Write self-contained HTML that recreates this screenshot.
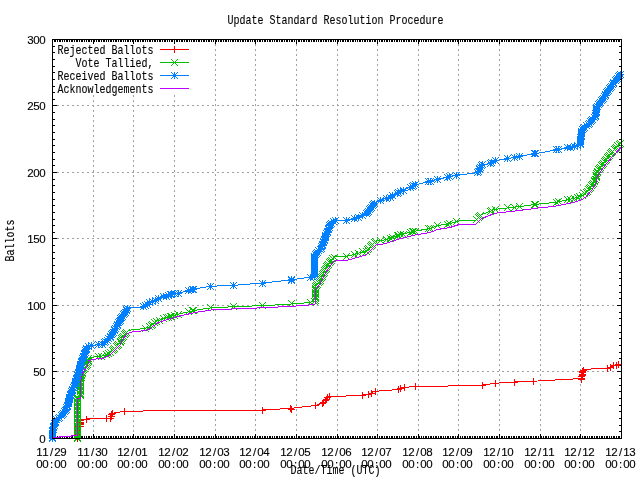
<!DOCTYPE html>
<html><head><meta charset="utf-8"><title>Update Standard Resolution Procedure</title>
<style>html,body{margin:0;padding:0;background:#fff;overflow:hidden}svg{display:block}text{font-family:"Liberation Mono","DejaVu Sans Mono",monospace;font-size:12px;fill:#000;stroke:#000;stroke-width:.12px}.n text{font-family:"Liberation Sans","DejaVu Sans",sans-serif;font-size:11.5px;text-anchor:middle}</style></head><body>
<svg width="640" height="480" viewBox="0 0 640 480">
<rect width="640" height="480" fill="#fff"/>
<path d="M93.5 95V438M133.5 95V438M174.5 95V438M215.5 39V438M255.5 39V438M296.5 39V438M337.5 39V438M377.5 39V438M418.5 39V438M458.5 39V438M499.5 39V438M540.5 39V438M580.5 39V438M52 371.5H621M52 305.5H621M52 238.5H621M52 172.5H621M52 105.5H621" fill="none" stroke="#a0a0a0" stroke-width="1" stroke-dasharray="2 3" shape-rendering="crispEdges"/>
<path d="M52.5 438v-4M52.5 40v4M54.5 438v-2M54.5 40v2M55.5 438v-2M55.5 40v2M57.5 438v-2M57.5 40v2M59.5 438v-2M59.5 40v2M60.5 438v-2M60.5 40v2M62.5 438v-2M62.5 40v2M64.5 438v-2M64.5 40v2M66.5 438v-2M66.5 40v2M67.5 438v-2M67.5 40v2M69.5 438v-2M69.5 40v2M71.5 438v-2M71.5 40v2M72.5 438v-2M72.5 40v2M74.5 438v-2M74.5 40v2M76.5 438v-2M76.5 40v2M77.5 438v-2M77.5 40v2M79.5 438v-2M79.5 40v2M81.5 438v-2M81.5 40v2M82.5 438v-2M82.5 40v2M84.5 438v-2M84.5 40v2M86.5 438v-2M86.5 40v2M88.5 438v-2M88.5 40v2M89.5 438v-2M89.5 40v2M91.5 438v-2M91.5 40v2M93.5 438v-4M93.5 40v4M94.5 438v-2M94.5 40v2M96.5 438v-2M96.5 40v2M98.5 438v-2M98.5 40v2M99.5 438v-2M99.5 40v2M101.5 438v-2M101.5 40v2M103.5 438v-2M103.5 40v2M104.5 438v-2M104.5 40v2M106.5 438v-2M106.5 40v2M108.5 438v-2M108.5 40v2M110.5 438v-2M110.5 40v2M111.5 438v-2M111.5 40v2M113.5 438v-2M113.5 40v2M115.5 438v-2M115.5 40v2M116.5 438v-2M116.5 40v2M118.5 438v-2M118.5 40v2M120.5 438v-2M120.5 40v2M121.5 438v-2M121.5 40v2M123.5 438v-2M123.5 40v2M125.5 438v-2M125.5 40v2M127.5 438v-2M127.5 40v2M128.5 438v-2M128.5 40v2M130.5 438v-2M130.5 40v2M132.5 438v-2M132.5 40v2M133.5 438v-4M133.5 40v4M135.5 438v-2M135.5 40v2M137.5 438v-2M137.5 40v2M138.5 438v-2M138.5 40v2M140.5 438v-2M140.5 40v2M142.5 438v-2M142.5 40v2M143.5 438v-2M143.5 40v2M145.5 438v-2M145.5 40v2M147.5 438v-2M147.5 40v2M149.5 438v-2M149.5 40v2M150.5 438v-2M150.5 40v2M152.5 438v-2M152.5 40v2M154.5 438v-2M154.5 40v2M155.5 438v-2M155.5 40v2M157.5 438v-2M157.5 40v2M159.5 438v-2M159.5 40v2M160.5 438v-2M160.5 40v2M162.5 438v-2M162.5 40v2M164.5 438v-2M164.5 40v2M165.5 438v-2M165.5 40v2M167.5 438v-2M167.5 40v2M169.5 438v-2M169.5 40v2M171.5 438v-2M171.5 40v2M172.5 438v-2M172.5 40v2M174.5 438v-4M174.5 40v4M176.5 438v-2M176.5 40v2M177.5 438v-2M177.5 40v2M179.5 438v-2M179.5 40v2M181.5 438v-2M181.5 40v2M182.5 438v-2M182.5 40v2M184.5 438v-2M184.5 40v2M186.5 438v-2M186.5 40v2M187.5 438v-2M187.5 40v2M189.5 438v-2M189.5 40v2M191.5 438v-2M191.5 40v2M193.5 438v-2M193.5 40v2M194.5 438v-2M194.5 40v2M196.5 438v-2M196.5 40v2M198.5 438v-2M198.5 40v2M199.5 438v-2M199.5 40v2M201.5 438v-2M201.5 40v2M203.5 438v-2M203.5 40v2M204.5 438v-2M204.5 40v2M206.5 438v-2M206.5 40v2M208.5 438v-2M208.5 40v2M209.5 438v-2M209.5 40v2M211.5 438v-2M211.5 40v2M213.5 438v-2M213.5 40v2M215.5 438v-4M215.5 40v4M216.5 438v-2M216.5 40v2M218.5 438v-2M218.5 40v2M220.5 438v-2M220.5 40v2M221.5 438v-2M221.5 40v2M223.5 438v-2M223.5 40v2M225.5 438v-2M225.5 40v2M226.5 438v-2M226.5 40v2M228.5 438v-2M228.5 40v2M230.5 438v-2M230.5 40v2M232.5 438v-2M232.5 40v2M233.5 438v-2M233.5 40v2M235.5 438v-2M235.5 40v2M237.5 438v-2M237.5 40v2M238.5 438v-2M238.5 40v2M240.5 438v-2M240.5 40v2M242.5 438v-2M242.5 40v2M243.5 438v-2M243.5 40v2M245.5 438v-2M245.5 40v2M247.5 438v-2M247.5 40v2M248.5 438v-2M248.5 40v2M250.5 438v-2M250.5 40v2M252.5 438v-2M252.5 40v2M254.5 438v-2M254.5 40v2M255.5 438v-4M255.5 40v4M257.5 438v-2M257.5 40v2M259.5 438v-2M259.5 40v2M260.5 438v-2M260.5 40v2M262.5 438v-2M262.5 40v2M264.5 438v-2M264.5 40v2M265.5 438v-2M265.5 40v2M267.5 438v-2M267.5 40v2M269.5 438v-2M269.5 40v2M270.5 438v-2M270.5 40v2M272.5 438v-2M272.5 40v2M274.5 438v-2M274.5 40v2M276.5 438v-2M276.5 40v2M277.5 438v-2M277.5 40v2M279.5 438v-2M279.5 40v2M281.5 438v-2M281.5 40v2M282.5 438v-2M282.5 40v2M284.5 438v-2M284.5 40v2M286.5 438v-2M286.5 40v2M287.5 438v-2M287.5 40v2M289.5 438v-2M289.5 40v2M291.5 438v-2M291.5 40v2M292.5 438v-2M292.5 40v2M294.5 438v-2M294.5 40v2M296.5 438v-4M296.5 40v4M298.5 438v-2M298.5 40v2M299.5 438v-2M299.5 40v2M301.5 438v-2M301.5 40v2M303.5 438v-2M303.5 40v2M304.5 438v-2M304.5 40v2M306.5 438v-2M306.5 40v2M308.5 438v-2M308.5 40v2M309.5 438v-2M309.5 40v2M311.5 438v-2M311.5 40v2M313.5 438v-2M313.5 40v2M314.5 438v-2M314.5 40v2M316.5 438v-2M316.5 40v2M318.5 438v-2M318.5 40v2M320.5 438v-2M320.5 40v2M321.5 438v-2M321.5 40v2M323.5 438v-2M323.5 40v2M325.5 438v-2M325.5 40v2M326.5 438v-2M326.5 40v2M328.5 438v-2M328.5 40v2M330.5 438v-2M330.5 40v2M331.5 438v-2M331.5 40v2M333.5 438v-2M333.5 40v2M335.5 438v-2M335.5 40v2M337.5 438v-4M337.5 40v4M338.5 438v-2M338.5 40v2M340.5 438v-2M340.5 40v2M342.5 438v-2M342.5 40v2M343.5 438v-2M343.5 40v2M345.5 438v-2M345.5 40v2M347.5 438v-2M347.5 40v2M348.5 438v-2M348.5 40v2M350.5 438v-2M350.5 40v2M352.5 438v-2M352.5 40v2M353.5 438v-2M353.5 40v2M355.5 438v-2M355.5 40v2M357.5 438v-2M357.5 40v2M359.5 438v-2M359.5 40v2M360.5 438v-2M360.5 40v2M362.5 438v-2M362.5 40v2M364.5 438v-2M364.5 40v2M365.5 438v-2M365.5 40v2M367.5 438v-2M367.5 40v2M369.5 438v-2M369.5 40v2M370.5 438v-2M370.5 40v2M372.5 438v-2M372.5 40v2M374.5 438v-2M374.5 40v2M375.5 438v-2M375.5 40v2M377.5 438v-4M377.5 40v4M379.5 438v-2M379.5 40v2M381.5 438v-2M381.5 40v2M382.5 438v-2M382.5 40v2M384.5 438v-2M384.5 40v2M386.5 438v-2M386.5 40v2M387.5 438v-2M387.5 40v2M389.5 438v-2M389.5 40v2M391.5 438v-2M391.5 40v2M392.5 438v-2M392.5 40v2M394.5 438v-2M394.5 40v2M396.5 438v-2M396.5 40v2M397.5 438v-2M397.5 40v2M399.5 438v-2M399.5 40v2M401.5 438v-2M401.5 40v2M403.5 438v-2M403.5 40v2M404.5 438v-2M404.5 40v2M406.5 438v-2M406.5 40v2M408.5 438v-2M408.5 40v2M409.5 438v-2M409.5 40v2M411.5 438v-2M411.5 40v2M413.5 438v-2M413.5 40v2M414.5 438v-2M414.5 40v2M416.5 438v-2M416.5 40v2M418.5 438v-4M418.5 40v4M419.5 438v-2M419.5 40v2M421.5 438v-2M421.5 40v2M423.5 438v-2M423.5 40v2M425.5 438v-2M425.5 40v2M426.5 438v-2M426.5 40v2M428.5 438v-2M428.5 40v2M430.5 438v-2M430.5 40v2M431.5 438v-2M431.5 40v2M433.5 438v-2M433.5 40v2M435.5 438v-2M435.5 40v2M436.5 438v-2M436.5 40v2M438.5 438v-2M438.5 40v2M440.5 438v-2M440.5 40v2M441.5 438v-2M441.5 40v2M443.5 438v-2M443.5 40v2M445.5 438v-2M445.5 40v2M447.5 438v-2M447.5 40v2M448.5 438v-2M448.5 40v2M450.5 438v-2M450.5 40v2M452.5 438v-2M452.5 40v2M453.5 438v-2M453.5 40v2M455.5 438v-2M455.5 40v2M457.5 438v-2M457.5 40v2M458.5 438v-4M458.5 40v4M460.5 438v-2M460.5 40v2M462.5 438v-2M462.5 40v2M464.5 438v-2M464.5 40v2M465.5 438v-2M465.5 40v2M467.5 438v-2M467.5 40v2M469.5 438v-2M469.5 40v2M470.5 438v-2M470.5 40v2M472.5 438v-2M472.5 40v2M474.5 438v-2M474.5 40v2M475.5 438v-2M475.5 40v2M477.5 438v-2M477.5 40v2M479.5 438v-2M479.5 40v2M480.5 438v-2M480.5 40v2M482.5 438v-2M482.5 40v2M484.5 438v-2M484.5 40v2M486.5 438v-2M486.5 40v2M487.5 438v-2M487.5 40v2M489.5 438v-2M489.5 40v2M491.5 438v-2M491.5 40v2M492.5 438v-2M492.5 40v2M494.5 438v-2M494.5 40v2M496.5 438v-2M496.5 40v2M497.5 438v-2M497.5 40v2M499.5 438v-4M499.5 40v4M501.5 438v-2M501.5 40v2M502.5 438v-2M502.5 40v2M504.5 438v-2M504.5 40v2M506.5 438v-2M506.5 40v2M508.5 438v-2M508.5 40v2M509.5 438v-2M509.5 40v2M511.5 438v-2M511.5 40v2M513.5 438v-2M513.5 40v2M514.5 438v-2M514.5 40v2M516.5 438v-2M516.5 40v2M518.5 438v-2M518.5 40v2M519.5 438v-2M519.5 40v2M521.5 438v-2M521.5 40v2M523.5 438v-2M523.5 40v2M524.5 438v-2M524.5 40v2M526.5 438v-2M526.5 40v2M528.5 438v-2M528.5 40v2M530.5 438v-2M530.5 40v2M531.5 438v-2M531.5 40v2M533.5 438v-2M533.5 40v2M535.5 438v-2M535.5 40v2M536.5 438v-2M536.5 40v2M538.5 438v-2M538.5 40v2M540.5 438v-4M540.5 40v4M541.5 438v-2M541.5 40v2M543.5 438v-2M543.5 40v2M545.5 438v-2M545.5 40v2M546.5 438v-2M546.5 40v2M548.5 438v-2M548.5 40v2M550.5 438v-2M550.5 40v2M552.5 438v-2M552.5 40v2M553.5 438v-2M553.5 40v2M555.5 438v-2M555.5 40v2M557.5 438v-2M557.5 40v2M558.5 438v-2M558.5 40v2M560.5 438v-2M560.5 40v2M562.5 438v-2M562.5 40v2M563.5 438v-2M563.5 40v2M565.5 438v-2M565.5 40v2M567.5 438v-2M567.5 40v2M569.5 438v-2M569.5 40v2M570.5 438v-2M570.5 40v2M572.5 438v-2M572.5 40v2M574.5 438v-2M574.5 40v2M575.5 438v-2M575.5 40v2M577.5 438v-2M577.5 40v2M579.5 438v-2M579.5 40v2M580.5 438v-4M580.5 40v4M582.5 438v-2M582.5 40v2M584.5 438v-2M584.5 40v2M585.5 438v-2M585.5 40v2M587.5 438v-2M587.5 40v2M589.5 438v-2M589.5 40v2M591.5 438v-2M591.5 40v2M592.5 438v-2M592.5 40v2M594.5 438v-2M594.5 40v2M596.5 438v-2M596.5 40v2M597.5 438v-2M597.5 40v2M599.5 438v-2M599.5 40v2M601.5 438v-2M601.5 40v2M602.5 438v-2M602.5 40v2M604.5 438v-2M604.5 40v2M606.5 438v-2M606.5 40v2M607.5 438v-2M607.5 40v2M609.5 438v-2M609.5 40v2M611.5 438v-2M611.5 40v2M613.5 438v-2M613.5 40v2M614.5 438v-2M614.5 40v2M616.5 438v-2M616.5 40v2M618.5 438v-2M618.5 40v2M619.5 438v-2M619.5 40v2M621.5 438v-4M621.5 40v4M53 438.5h4M621 438.5h-4M53 431.5h2M621 431.5h-2M53 425.5h2M621 425.5h-2M53 418.5h2M621 418.5h-2M53 411.5h2M621 411.5h-2M53 405.5h2M621 405.5h-2M53 398.5h2M621 398.5h-2M53 391.5h2M621 391.5h-2M53 385.5h2M621 385.5h-2M53 378.5h2M621 378.5h-2M53 371.5h4M621 371.5h-4M53 365.5h2M621 365.5h-2M53 358.5h2M621 358.5h-2M53 352.5h2M621 352.5h-2M53 345.5h2M621 345.5h-2M53 338.5h2M621 338.5h-2M53 332.5h2M621 332.5h-2M53 325.5h2M621 325.5h-2M53 318.5h2M621 318.5h-2M53 312.5h2M621 312.5h-2M53 305.5h4M621 305.5h-4M53 298.5h2M621 298.5h-2M53 292.5h2M621 292.5h-2M53 285.5h2M621 285.5h-2M53 278.5h2M621 278.5h-2M53 272.5h2M621 272.5h-2M53 265.5h2M621 265.5h-2M53 258.5h2M621 258.5h-2M53 252.5h2M621 252.5h-2M53 245.5h2M621 245.5h-2M53 238.5h4M621 238.5h-4M53 232.5h2M621 232.5h-2M53 225.5h2M621 225.5h-2M53 219.5h2M621 219.5h-2M53 212.5h2M621 212.5h-2M53 205.5h2M621 205.5h-2M53 199.5h2M621 199.5h-2M53 192.5h2M621 192.5h-2M53 185.5h2M621 185.5h-2M53 179.5h2M621 179.5h-2M53 172.5h4M621 172.5h-4M53 165.5h2M621 165.5h-2M53 159.5h2M621 159.5h-2M53 152.5h2M621 152.5h-2M53 145.5h2M621 145.5h-2M53 139.5h2M621 139.5h-2M53 132.5h2M621 132.5h-2M53 125.5h2M621 125.5h-2M53 119.5h2M621 119.5h-2M53 112.5h2M621 112.5h-2M53 105.5h4M621 105.5h-4M53 99.5h2M621 99.5h-2M53 92.5h2M621 92.5h-2M53 86.5h2M621 86.5h-2M53 79.5h2M621 79.5h-2M53 72.5h2M621 72.5h-2M53 66.5h2M621 66.5h-2M53 59.5h2M621 59.5h-2M53 52.5h2M621 52.5h-2M53 46.5h2M621 46.5h-2M53 39.5h4M621 39.5h-4" fill="none" stroke="#000" stroke-width="1" shape-rendering="crispEdges"/>
<text transform="translate(335.5 24) scale(0.8333 1)" text-anchor="middle">Update Standard Resolution Procedure</text>
<text transform="translate(335.5 474) scale(0.8333 1)" text-anchor="middle">Date/Time (UTC)</text>
<text transform="translate(14.2 240.5) rotate(-90) scale(0.8333 1)" text-anchor="middle">Ballots</text>
<g class="n">
<text x="42.5" y="443">0</text>
<text x="36.5 42.5" y="376">50</text>
<text x="30.5 36.5 42.5" y="310">100</text>
<text x="30.5 36.5 42.5" y="243">150</text>
<text x="30.5 36.5 42.5" y="177">200</text>
<text x="30.5 36.5 42.5" y="110">250</text>
<text x="30.5 36.5 42.5" y="44">300</text>
<text x="39.5 45.5 51.5 57.5 63.5" y="455.5">11/29</text>
<text x="39.5 45.5 51.5 57.5 63.5" y="468.3">00:00</text>
<text x="80.5 86.5 92.5 98.5 104.5" y="455.5">11/30</text>
<text x="80.5 86.5 92.5 98.5 104.5" y="468.3">00:00</text>
<text x="120.5 126.5 132.5 138.5 144.5" y="455.5">12/01</text>
<text x="120.5 126.5 132.5 138.5 144.5" y="468.3">00:00</text>
<text x="161.5 167.5 173.5 179.5 185.5" y="455.5">12/02</text>
<text x="161.5 167.5 173.5 179.5 185.5" y="468.3">00:00</text>
<text x="202.5 208.5 214.5 220.5 226.5" y="455.5">12/03</text>
<text x="202.5 208.5 214.5 220.5 226.5" y="468.3">00:00</text>
<text x="242.5 248.5 254.5 260.5 266.5" y="455.5">12/04</text>
<text x="242.5 248.5 254.5 260.5 266.5" y="468.3">00:00</text>
<text x="283.5 289.5 295.5 301.5 307.5" y="455.5">12/05</text>
<text x="283.5 289.5 295.5 301.5 307.5" y="468.3">00:00</text>
<text x="324.5 330.5 336.5 342.5 348.5" y="455.5">12/06</text>
<text x="324.5 330.5 336.5 342.5 348.5" y="468.3">00:00</text>
<text x="364.5 370.5 376.5 382.5 388.5" y="455.5">12/07</text>
<text x="364.5 370.5 376.5 382.5 388.5" y="468.3">00:00</text>
<text x="405.5 411.5 417.5 423.5 429.5" y="455.5">12/08</text>
<text x="405.5 411.5 417.5 423.5 429.5" y="468.3">00:00</text>
<text x="445.5 451.5 457.5 463.5 469.5" y="455.5">12/09</text>
<text x="445.5 451.5 457.5 463.5 469.5" y="468.3">00:00</text>
<text x="486.5 492.5 498.5 504.5 510.5" y="455.5">12/10</text>
<text x="486.5 492.5 498.5 504.5 510.5" y="468.3">00:00</text>
<text x="527.5 533.5 539.5 545.5 551.5" y="455.5">12/11</text>
<text x="527.5 533.5 539.5 545.5 551.5" y="468.3">00:00</text>
<text x="567.5 573.5 579.5 585.5 591.5" y="455.5">12/12</text>
<text x="567.5 573.5 579.5 585.5 591.5" y="468.3">00:00</text>
<text x="608.5 614.5 620.5 626.5 632.5" y="455.5">12/13</text>
<text x="608.5 614.5 620.5 626.5 632.5" y="468.3">00:00</text>
</g>
<text transform="translate(153.5 54) scale(0.8333 1)" text-anchor="end">Rejected Ballots</text>
<path d="M160 49.5H189" stroke="#ff0000" fill="none" shape-rendering="crispEdges"/>
<text transform="translate(153.5 67) scale(0.8333 1)" text-anchor="end">Vote Tallied,</text>
<path d="M160 62.5H189" stroke="#00c000" fill="none" shape-rendering="crispEdges"/>
<text transform="translate(153.5 80) scale(0.8333 1)" text-anchor="end">Received Ballots</text>
<path d="M160 75.5H189" stroke="#0080ff" fill="none" shape-rendering="crispEdges"/>
<text transform="translate(153.5 93) scale(0.8333 1)" text-anchor="end">Acknowledgements</text>
<path d="M160 88.5H189" stroke="#c000ff" fill="none" shape-rendering="crispEdges"/>
<path d="M171 49.5h7M174.5 46v7" stroke="#ff0000" fill="none" shape-rendering="crispEdges"/>
<path d="M171 59l7 7M171 66l7 -7" stroke="#00c000" fill="none" shape-rendering="crispEdges"/>
<path d="M171 75.5h7M174.5 72v7M171 72l7 7M171 79l7 -7" stroke="#0080ff" fill="none" shape-rendering="crispEdges"/>
<clipPath id="c"><rect x="48" y="39" width="577" height="404"/></clipPath><g clip-path="url(#c)" fill="none" stroke-width="1" shape-rendering="crispEdges">
<path d="M77.5 438.5 L77.5 427 L80.5 426 L80.5 419 L86.5 419 L106.5 418.5 L110.3 418 L111.25 414.4 L112 413.4 L124.4 411.2 L192.5 410.5 L262.5 410 L276 409.25 L291 408.4 L302.5 407 L315.75 405.5 L322.5 403 L325 400 L327.5 397.5 L329.25 396.75 L342.5 396.25 L362.5 395 L368.75 394.25 L371.25 393 L375 391.25 L387.5 390.5 L398.75 389.25 L400.75 388.75 L404.25 387.5 L415.5 386.25 L447.5 386.25 L450 385.5 L482.5 385 L495 383.25 L514.5 382 L533.25 381.25 L577.5 378.75 L581.25 379.5 L583 369.5 L607.5 368 L610.5 367 L613.75 365.75 L616.25 365 L618.75 364.5" stroke="#ff0000"/>
<path d="M74 438.5h7M77.5 435v7M74 437.5h7M77.5 434v7M74 435.5h7M77.5 432v7M74 434.5h7M77.5 431v7M74 433.5h7M77.5 430v7M74 431.5h7M77.5 428v7M74 430.5h7M77.5 427v7M74 429.5h7M77.5 426v7M74 427.5h7M77.5 424v7M74 426.5h7M77.5 423v7M77 426.5h7M80.5 423v7M77 424.5h7M80.5 421v7M77 423.5h7M80.5 420v7M77 422.5h7M80.5 419v7M77 420.5h7M80.5 417v7M77 419.5h7M80.5 416v7M83 419.5h7M86.5 416v7M103 418.5h7M106.5 415v7M107 418.5h7M110.5 415v7M108 416.5h7M111.5 413v7M108 414.5h7M111.5 411v7M109 413.5h7M112.5 410v7M121 411.5h7M124.5 408v7M259 410.5h7M262.5 407v7M287 408.5h7M290.5 405v7M288 409.5h7M291.5 406v7M312 405.5h7M315.5 402v7M319 403.5h7M322.5 400v7M320 402.5h7M323.5 399v7M322 400.5h7M325.5 397v7M323 399.5h7M326.5 396v7M324 397.5h7M327.5 394v7M326 396.5h7M329.5 393v7M359 395.5h7M362.5 392v7M365 394.5h7M368.5 391v7M368 393.5h7M371.5 390v7M372 391.5h7M375.5 388v7M395 389.5h7M398.5 386v7M397 388.5h7M400.5 385v7M401 387.5h7M404.5 384v7M412 386.5h7M415.5 383v7M479 385.5h7M482.5 382v7M492 383.5h7M495.5 380v7M511 382.5h7M514.5 379v7M530 381.5h7M533.5 378v7M578 379.5h7M581.5 376v7M578 378.5h7M581.5 375v7M578 376.5h7M581.5 373v7M579 375.5h7M582.5 372v7M579 374.5h7M582.5 371v7M579 372.5h7M582.5 369v7M579 371.5h7M582.5 368v7M580 370.5h7M583.5 367v7M604 368.5h7M607.5 365v7M607 367.5h7M610.5 364v7M610 365.5h7M613.5 362v7M613 365.5h7M616.5 362v7M615 364.5h7M618.5 361v7" stroke="#ff0000"/>
<path d="M77.5 438.5 L77.5 396.5 L80.4 396.5 L80.2 380.3 L83 370.3 L87.5 363.8 L88.75 358.4 L92.5 357.2 L103.75 355.8 L110 352.8 L115 347.8 L120 342.8 L122.5 337.3 L127.5 331.3 L132 329.8 L140 329 L146 328 L149 327.3 L151.5 325.1 L157.5 320.8 L167.5 317.2 L180 313.8 L195 310.3 L211 307.8 L232.5 306.8 L250 306.1 L270 305.3 L302.5 303.26 L315 301.45 L316 285.89 L320 280.67 L326 268.33 L333 258.1 L336 256.7 L348 256.1 L366 251.1 L370 247.35 L376 241.1 L385 239.85 L400 234.85 L415 231.1 L430 228.6 L437.5 225.6 L450 223.6 L457.5 221.1 L476 220.1 L481 214.85 L495 209.35 L520 206.6 L536 204.35 L555 202.35 L566 200.1 L574 198.5 L581 196.07 L586 192.94 L592 185.78 L596 178.67 L597 172.64 L603 163.48 L612 152.24 L621.5 142" stroke="#00c000"/>
<path d="M74 435l7 7M74 442l7 -7M74 434l7 7M74 441l7 -7M74 432l7 7M74 439l7 -7M74 431l7 7M74 438l7 -7M74 430l7 7M74 437l7 -7M74 428l7 7M74 435l7 -7M74 427l7 7M74 434l7 -7M74 426l7 7M74 433l7 -7M74 424l7 7M74 431l7 -7M74 423l7 7M74 430l7 -7M74 422l7 7M74 429l7 -7M74 420l7 7M74 427l7 -7M74 419l7 7M74 426l7 -7M74 418l7 7M74 425l7 -7M74 416l7 7M74 423l7 -7M74 415l7 7M74 422l7 -7M74 414l7 7M74 421l7 -7M74 412l7 7M74 419l7 -7M74 411l7 7M74 418l7 -7M74 410l7 7M74 417l7 -7M74 408l7 7M74 415l7 -7M74 407l7 7M74 414l7 -7M74 406l7 7M74 413l7 -7M74 404l7 7M74 411l7 -7M74 403l7 7M74 410l7 -7M74 402l7 7M74 409l7 -7M74 400l7 7M74 407l7 -7M74 399l7 7M74 406l7 -7M74 398l7 7M74 405l7 -7M74 396l7 7M74 403l7 -7M74 395l7 7M74 402l7 -7M74 394l7 7M74 401l7 -7M77 392l7 7M77 399l7 -7M77 391l7 7M77 398l7 -7M77 390l7 7M77 397l7 -7M77 388l7 7M77 395l7 -7M77 387l7 7M77 394l7 -7M77 386l7 7M77 393l7 -7M77 384l7 7M77 391l7 -7M77 383l7 7M77 390l7 -7M77 382l7 7M77 389l7 -7M77 380l7 7M77 387l7 -7M77 379l7 7M77 386l7 -7M77 378l7 7M77 385l7 -7M77 376l7 7M77 383l7 -7M77 375l7 7M77 382l7 -7M78 374l7 7M78 381l7 -7M78 372l7 7M78 379l7 -7M78 371l7 7M78 378l7 -7M79 370l7 7M79 377l7 -7M79 369l7 7M79 376l7 -7M79 367l7 7M79 374l7 -7M80 366l7 7M80 373l7 -7M81 365l7 7M81 372l7 -7M82 363l7 7M82 370l7 -7M83 362l7 7M83 369l7 -7M84 361l7 7M84 368l7 -7M84 359l7 7M84 366l7 -7M85 358l7 7M85 365l7 -7M85 357l7 7M85 364l7 -7M85 355l7 7M85 362l7 -7M98 353l7 7M98 360l7 -7M103 351l7 7M103 358l7 -7M105 350l7 7M105 357l7 -7M107 349l7 7M107 356l7 -7M109 347l7 7M109 354l7 -7M110 346l7 7M110 353l7 -7M111 345l7 7M111 352l7 -7M113 343l7 7M113 350l7 -7M114 342l7 7M114 349l7 -7M115 341l7 7M115 348l7 -7M117 339l7 7M117 346l7 -7M117 338l7 7M117 345l7 -7M118 337l7 7M118 344l7 -7M118 335l7 7M118 342l7 -7M119 334l7 7M119 341l7 -7M120 333l7 7M120 340l7 -7M121 331l7 7M121 338l7 -7M122 330l7 7M122 337l7 -7M123 329l7 7M123 336l7 -7M142 325l7 7M142 332l7 -7M146 323l7 7M146 330l7 -7M148 322l7 7M148 329l7 -7M149 321l7 7M149 328l7 -7M151 319l7 7M151 326l7 -7M153 318l7 7M153 325l7 -7M156 317l7 7M156 324l7 -7M311 298l7 7M311 305l7 -7M312 297l7 7M312 304l7 -7M312 295l7 7M312 302l7 -7M312 294l7 7M312 301l7 -7M312 293l7 7M312 300l7 -7M312 291l7 7M312 298l7 -7M312 290l7 7M312 297l7 -7M312 289l7 7M312 296l7 -7M312 287l7 7M312 294l7 -7M312 286l7 7M312 293l7 -7M312 285l7 7M312 292l7 -7M312 283l7 7M312 290l7 -7M313 282l7 7M313 289l7 -7M314 281l7 7M314 288l7 -7M315 279l7 7M315 286l7 -7M316 278l7 7M316 285l7 -7M317 277l7 7M317 284l7 -7M317 275l7 7M317 282l7 -7M318 274l7 7M318 281l7 -7M319 273l7 7M319 280l7 -7M319 271l7 7M319 278l7 -7M320 270l7 7M320 277l7 -7M321 269l7 7M321 276l7 -7M321 267l7 7M321 274l7 -7M322 266l7 7M322 273l7 -7M323 265l7 7M323 272l7 -7M323 263l7 7M323 270l7 -7M324 262l7 7M324 269l7 -7M325 261l7 7M325 268l7 -7M326 259l7 7M326 266l7 -7M327 258l7 7M327 265l7 -7M328 257l7 7M328 264l7 -7M329 255l7 7M329 262l7 -7M331 254l7 7M331 261l7 -7M364 246l7 7M364 253l7 -7M365 245l7 7M365 252l7 -7M367 243l7 7M367 250l7 -7M368 242l7 7M368 249l7 -7M369 241l7 7M369 248l7 -7M371 239l7 7M371 246l7 -7M372 238l7 7M372 245l7 -7M473 216l7 7M473 223l7 -7M475 214l7 7M475 221l7 -7M476 213l7 7M476 220l7 -7M477 212l7 7M477 219l7 -7M576 193l7 7M576 200l7 -7M579 192l7 7M579 199l7 -7M581 190l7 7M581 197l7 -7M583 189l7 7M583 196l7 -7M584 188l7 7M584 195l7 -7M585 186l7 7M585 193l7 -7M586 185l7 7M586 192l7 -7M587 184l7 7M587 191l7 -7M588 182l7 7M588 189l7 -7M589 181l7 7M589 188l7 -7M590 180l7 7M590 187l7 -7M591 178l7 7M591 185l7 -7M591 177l7 7M591 184l7 -7M592 176l7 7M592 183l7 -7M593 174l7 7M593 181l7 -7M593 173l7 7M593 180l7 -7M593 172l7 7M593 179l7 -7M593 170l7 7M593 177l7 -7M594 169l7 7M594 176l7 -7M594 168l7 7M594 175l7 -7M595 166l7 7M595 173l7 -7M596 165l7 7M596 172l7 -7M597 164l7 7M597 171l7 -7M598 162l7 7M598 169l7 -7M599 161l7 7M599 168l7 -7M600 160l7 7M600 167l7 -7M601 158l7 7M601 165l7 -7M602 157l7 7M602 164l7 -7M603 156l7 7M603 163l7 -7M604 154l7 7M604 161l7 -7M605 153l7 7M605 160l7 -7M606 152l7 7M606 159l7 -7M607 150l7 7M607 157l7 -7M608 149l7 7M608 156l7 -7M609 148l7 7M609 155l7 -7M611 146l7 7M611 153l7 -7M612 145l7 7M612 152l7 -7M613 144l7 7M613 151l7 -7M614 142l7 7M614 149l7 -7M616 141l7 7M616 148l7 -7M617 140l7 7M617 147l7 -7M95 353l7 7M95 360l7 -7M160 315l7 7M160 322l7 -7M163 314l7 7M163 321l7 -7M165 314l7 7M165 321l7 -7M167 313l7 7M167 320l7 -7M168 313l7 7M168 320l7 -7M171 312l7 7M171 319l7 -7M175 311l7 7M175 318l7 -7M185 308l7 7M185 315l7 -7M185 308l7 7M185 315l7 -7M189 307l7 7M189 314l7 -7M190 307l7 7M190 314l7 -7M207 304l7 7M207 311l7 -7M230 303l7 7M230 310l7 -7M259 302l7 7M259 309l7 -7M288 300l7 7M288 307l7 -7M288 300l7 7M288 307l7 -7M307 299l7 7M307 306l7 -7M343 253l7 7M343 260l7 -7M351 251l7 7M351 258l7 -7M355 250l7 7M355 257l7 -7M359 248l7 7M359 255l7 -7M363 248l7 7M363 255l7 -7M377 237l7 7M377 244l7 -7M383 236l7 7M383 243l7 -7M387 235l7 7M387 242l7 -7M389 234l7 7M389 241l7 -7M394 232l7 7M394 239l7 -7M395 232l7 7M395 239l7 -7M397 231l7 7M397 238l7 -7M400 231l7 7M400 238l7 -7M407 229l7 7M407 236l7 -7M409 228l7 7M409 235l7 -7M410 228l7 7M410 235l7 -7M412 228l7 7M412 235l7 -7M425 225l7 7M425 232l7 -7M427 225l7 7M427 232l7 -7M434 222l7 7M434 229l7 -7M444 221l7 7M444 228l7 -7M446 220l7 7M446 227l7 -7M453 218l7 7M453 225l7 -7M487 208l7 7M487 215l7 -7M488 207l7 7M488 214l7 -7M492 206l7 7M492 213l7 -7M504 204l7 7M504 211l7 -7M511 204l7 7M511 211l7 -7M516 203l7 7M516 210l7 -7M531 201l7 7M531 208l7 -7M532 201l7 7M532 208l7 -7M553 199l7 7M553 206l7 -7M555 198l7 7M555 205l7 -7M564 196l7 7M564 203l7 -7M567 196l7 7M567 203l7 -7M571 195l7 7M571 202l7 -7M574 194l7 7M574 201l7 -7" stroke="#00c000"/>
<path d="M52.5 438.5 L53 430 L54 426 L56.5 420 L62 415.5 L66 409.5 L68.7 402.5 L70.2 396 L73 389 L75 384.5 L79 371 L82.5 358.75 L87 347.5 L91.25 345.3 L98.6 344.8 L101.4 344.5 L105 342.3 L110 337.7 L116.3 327 L122 317 L128.3 307.5 L143 307.5 L148.5 303.6 L156.5 299.5 L165 296.3 L171 294.7 L178 293.2 L188 290.7 L193 289.3 L210.6 286.25 L233.5 285.4 L262.5 283 L291 280 L310 277 L314 277 L315 255 L320.8 249 L326 235 L331 223.3 L335.5 220.3 L345.8 220.3 L355 218.6 L365 214.7 L370 209.2 L374 203.4 L380 200.3 L390 197 L400 191.7 L415 185 L430 181.25 L437.5 179.5 L447.5 177 L456 175.25 L474 173.3 L477.5 172.5 L481.25 166.25 L483 164.5 L490 163.75 L495.6 160.6 L507.5 158.75 L514.4 157.25 L519.4 156.25 L535 153.75 L556 150 L570 147.3 L577 145.5 L580.5 144.5 L581.5 131 L585 127 L588 125 L594 118 L595.8 116 L596.4 108 L602 99.8 L608 91 L614 82 L621.5 73.2" stroke="#0080ff"/>
<path d="M49 438.5h7M52.5 435v7M49 437.5h7M52.5 434v7M49 435.5h7M52.5 432v7M49 434.5h7M52.5 431v7M49 433.5h7M52.5 430v7M49 431.5h7M52.5 428v7M49 430.5h7M52.5 427v7M50 429.5h7M53.5 426v7M50 427.5h7M53.5 424v7M50 426.5h7M53.5 423v7M51 425.5h7M54.5 422v7M51 423.5h7M54.5 420v7M52 422.5h7M55.5 419v7M52 421.5h7M55.5 418v7M53 419.5h7M56.5 416v7M55 418.5h7M58.5 415v7M56 417.5h7M59.5 414v7M58 415.5h7M61.5 412v7M59 414.5h7M62.5 411v7M60 413.5h7M63.5 410v7M61 411.5h7M64.5 408v7M62 410.5h7M65.5 407v7M63 409.5h7M66.5 406v7M63 407.5h7M66.5 404v7M64 406.5h7M67.5 403v7M64 405.5h7M67.5 402v7M65 403.5h7M68.5 400v7M65 402.5h7M68.5 399v7M65 401.5h7M68.5 398v7M66 399.5h7M69.5 396v7M66 398.5h7M69.5 395v7M66 397.5h7M69.5 394v7M67 395.5h7M70.5 392v7M67 394.5h7M70.5 391v7M68 393.5h7M71.5 390v7M68 391.5h7M71.5 388v7M69 390.5h7M72.5 387v7M69 389.5h7M72.5 386v7M70 387.5h7M73.5 384v7M71 386.5h7M74.5 383v7M71 385.5h7M74.5 382v7M72 383.5h7M75.5 380v7M72 382.5h7M75.5 379v7M72 381.5h7M75.5 378v7M73 379.5h7M76.5 376v7M73 378.5h7M76.5 375v7M74 377.5h7M77.5 374v7M74 375.5h7M77.5 372v7M74 374.5h7M77.5 371v7M75 373.5h7M78.5 370v7M75 372.5h7M78.5 369v7M76 370.5h7M79.5 367v7M76 369.5h7M79.5 366v7M76 368.5h7M79.5 365v7M77 366.5h7M80.5 363v7M77 365.5h7M80.5 362v7M77 364.5h7M80.5 361v7M78 362.5h7M81.5 359v7M78 361.5h7M81.5 358v7M79 360.5h7M82.5 357v7M79 358.5h7M82.5 355v7M80 357.5h7M83.5 354v7M80 356.5h7M83.5 353v7M81 354.5h7M84.5 351v7M81 353.5h7M84.5 350v7M82 352.5h7M85.5 349v7M82 350.5h7M85.5 347v7M83 349.5h7M86.5 346v7M83 348.5h7M86.5 345v7M85 346.5h7M88.5 343v7M88 345.5h7M91.5 342v7M99 344.5h7M102.5 341v7M101 342.5h7M104.5 339v7M102 341.5h7M105.5 338v7M104 340.5h7M107.5 337v7M105 338.5h7M108.5 335v7M107 337.5h7M110.5 334v7M107 336.5h7M110.5 333v7M108 334.5h7M111.5 331v7M109 333.5h7M112.5 330v7M110 332.5h7M113.5 329v7M111 330.5h7M114.5 327v7M111 329.5h7M114.5 326v7M112 328.5h7M115.5 325v7M113 326.5h7M116.5 323v7M114 325.5h7M117.5 322v7M114 324.5h7M117.5 321v7M115 322.5h7M118.5 319v7M116 321.5h7M119.5 318v7M117 320.5h7M120.5 317v7M117 318.5h7M120.5 315v7M118 317.5h7M121.5 314v7M119 316.5h7M122.5 313v7M120 314.5h7M123.5 311v7M121 313.5h7M124.5 310v7M122 312.5h7M125.5 309v7M123 310.5h7M126.5 307v7M123 309.5h7M126.5 306v7M124 308.5h7M127.5 305v7M140 306.5h7M143.5 303v7M142 305.5h7M145.5 302v7M144 304.5h7M147.5 301v7M146 302.5h7M149.5 299v7M149 301.5h7M152.5 298v7M152 300.5h7M155.5 297v7M155 298.5h7M158.5 295v7M311 276.5h7M314.5 273v7M311 274.5h7M314.5 271v7M311 273.5h7M314.5 270v7M311 272.5h7M314.5 269v7M311 270.5h7M314.5 267v7M311 269.5h7M314.5 266v7M311 268.5h7M314.5 265v7M311 266.5h7M314.5 263v7M311 265.5h7M314.5 262v7M311 264.5h7M314.5 261v7M311 262.5h7M314.5 259v7M311 261.5h7M314.5 258v7M311 260.5h7M314.5 257v7M311 258.5h7M314.5 255v7M311 257.5h7M314.5 254v7M311 256.5h7M314.5 253v7M312 254.5h7M315.5 251v7M313 253.5h7M316.5 250v7M314 252.5h7M317.5 249v7M315 250.5h7M318.5 247v7M317 249.5h7M320.5 246v7M318 248.5h7M321.5 245v7M318 246.5h7M321.5 243v7M319 245.5h7M322.5 242v7M319 244.5h7M322.5 241v7M320 242.5h7M323.5 239v7M320 241.5h7M323.5 238v7M321 240.5h7M324.5 237v7M321 239.5h7M324.5 236v7M322 237.5h7M325.5 234v7M322 236.5h7M325.5 233v7M322 235.5h7M325.5 232v7M323 233.5h7M326.5 230v7M324 232.5h7M327.5 229v7M324 231.5h7M327.5 228v7M325 229.5h7M328.5 226v7M325 228.5h7M328.5 225v7M326 227.5h7M329.5 224v7M326 225.5h7M329.5 222v7M327 224.5h7M330.5 221v7M328 223.5h7M331.5 220v7M330 221.5h7M333.5 218v7M332 220.5h7M335.5 217v7M364 212.5h7M367.5 209v7M365 211.5h7M368.5 208v7M366 209.5h7M369.5 206v7M367 208.5h7M370.5 205v7M368 207.5h7M371.5 204v7M369 205.5h7M372.5 202v7M370 204.5h7M373.5 201v7M371 203.5h7M374.5 200v7M474 172.5h7M477.5 169v7M475 171.5h7M478.5 168v7M476 169.5h7M479.5 166v7M476 168.5h7M479.5 165v7M477 167.5h7M480.5 164v7M478 165.5h7M481.5 162v7M479 164.5h7M482.5 161v7M577 144.5h7M580.5 141v7M577 143.5h7M580.5 140v7M577 141.5h7M580.5 138v7M577 140.5h7M580.5 137v7M577 139.5h7M580.5 136v7M577 137.5h7M580.5 134v7M578 136.5h7M581.5 133v7M578 135.5h7M581.5 132v7M578 133.5h7M581.5 130v7M578 132.5h7M581.5 129v7M578 131.5h7M581.5 128v7M579 129.5h7M582.5 126v7M580 128.5h7M583.5 125v7M581 127.5h7M584.5 124v7M583 125.5h7M586.5 122v7M585 124.5h7M588.5 121v7M586 123.5h7M589.5 120v7M587 121.5h7M590.5 118v7M588 120.5h7M591.5 117v7M589 119.5h7M592.5 116v7M591 117.5h7M594.5 114v7M592 116.5h7M595.5 113v7M592 115.5h7M595.5 112v7M592 113.5h7M595.5 110v7M593 112.5h7M596.5 109v7M593 111.5h7M596.5 108v7M593 109.5h7M596.5 106v7M593 108.5h7M596.5 105v7M593 107.5h7M596.5 104v7M594 106.5h7M597.5 103v7M595 104.5h7M598.5 101v7M596 103.5h7M599.5 100v7M597 102.5h7M600.5 99v7M598 100.5h7M601.5 97v7M599 99.5h7M602.5 96v7M600 98.5h7M603.5 95v7M601 96.5h7M604.5 93v7M602 95.5h7M605.5 92v7M602 94.5h7M605.5 91v7M603 92.5h7M606.5 89v7M604 91.5h7M607.5 88v7M605 90.5h7M608.5 87v7M606 88.5h7M609.5 85v7M607 87.5h7M610.5 84v7M608 86.5h7M611.5 83v7M609 84.5h7M612.5 81v7M610 83.5h7M613.5 80v7M610 82.5h7M613.5 79v7M612 80.5h7M615.5 77v7M613 79.5h7M616.5 76v7M614 78.5h7M617.5 75v7M615 76.5h7M618.5 73v7M616 75.5h7M619.5 72v7M617 74.5h7M620.5 71v7M95 344.5h7M98.5 341v7M160 296.5h7M163.5 293v7M163 296.5h7M166.5 293v7M165 295.5h7M168.5 292v7M167 294.5h7M170.5 291v7M168 294.5h7M171.5 291v7M171 293.5h7M174.5 290v7M175 293.5h7M178.5 290v7M185 290.5h7M188.5 287v7M185 290.5h7M188.5 287v7M189 289.5h7M192.5 286v7M190 289.5h7M193.5 286v7M207 286.5h7M210.5 283v7M230 285.5h7M233.5 282v7M259 283.5h7M262.5 280v7M288 280.5h7M291.5 277v7M288 279.5h7M291.5 276v7M307 277.5h7M310.5 274v7M343 220.5h7M346.5 217v7M351 218.5h7M354.5 215v7M355 217.5h7M358.5 214v7M359 215.5h7M362.5 212v7M363 213.5h7M366.5 210v7M377 200.5h7M380.5 197v7M383 198.5h7M386.5 195v7M387 197.5h7M390.5 194v7M389 195.5h7M392.5 192v7M394 193.5h7M397.5 190v7M395 192.5h7M398.5 189v7M397 191.5h7M400.5 188v7M400 190.5h7M403.5 187v7M407 187.5h7M410.5 184v7M409 186.5h7M412.5 183v7M410 185.5h7M413.5 182v7M412 184.5h7M415.5 181v7M425 181.5h7M428.5 178v7M427 181.5h7M430.5 178v7M434 179.5h7M437.5 176v7M444 177.5h7M447.5 174v7M446 176.5h7M449.5 173v7M453 175.5h7M456.5 172v7M487 163.5h7M490.5 160v7M488 162.5h7M491.5 159v7M492 160.5h7M495.5 157v7M504 158.5h7M507.5 155v7M511 157.5h7M514.5 154v7M516 156.5h7M519.5 153v7M531 153.5h7M534.5 150v7M532 153.5h7M535.5 150v7M553 149.5h7M556.5 146v7M555 149.5h7M558.5 146v7M564 147.5h7M567.5 144v7M567 147.5h7M570.5 144v7M571 146.5h7M574.5 143v7M574 145.5h7M577.5 142v7M49 435l7 7M49 442l7 -7M49 434l7 7M49 441l7 -7M49 432l7 7M49 439l7 -7M49 431l7 7M49 438l7 -7M49 430l7 7M49 437l7 -7M49 428l7 7M49 435l7 -7M49 427l7 7M49 434l7 -7M50 426l7 7M50 433l7 -7M50 424l7 7M50 431l7 -7M50 423l7 7M50 430l7 -7M51 422l7 7M51 429l7 -7M51 420l7 7M51 427l7 -7M52 419l7 7M52 426l7 -7M52 418l7 7M52 425l7 -7M53 416l7 7M53 423l7 -7M55 415l7 7M55 422l7 -7M56 414l7 7M56 421l7 -7M58 412l7 7M58 419l7 -7M59 411l7 7M59 418l7 -7M60 410l7 7M60 417l7 -7M61 408l7 7M61 415l7 -7M62 407l7 7M62 414l7 -7M63 406l7 7M63 413l7 -7M63 404l7 7M63 411l7 -7M64 403l7 7M64 410l7 -7M64 402l7 7M64 409l7 -7M65 400l7 7M65 407l7 -7M65 399l7 7M65 406l7 -7M65 398l7 7M65 405l7 -7M66 396l7 7M66 403l7 -7M66 395l7 7M66 402l7 -7M66 394l7 7M66 401l7 -7M67 392l7 7M67 399l7 -7M67 391l7 7M67 398l7 -7M68 390l7 7M68 397l7 -7M68 388l7 7M68 395l7 -7M69 387l7 7M69 394l7 -7M69 386l7 7M69 393l7 -7M70 384l7 7M70 391l7 -7M71 383l7 7M71 390l7 -7M71 382l7 7M71 389l7 -7M72 380l7 7M72 387l7 -7M72 379l7 7M72 386l7 -7M72 378l7 7M72 385l7 -7M73 376l7 7M73 383l7 -7M73 375l7 7M73 382l7 -7M74 374l7 7M74 381l7 -7M74 372l7 7M74 379l7 -7M74 371l7 7M74 378l7 -7M75 370l7 7M75 377l7 -7M75 369l7 7M75 376l7 -7M76 367l7 7M76 374l7 -7M76 366l7 7M76 373l7 -7M76 365l7 7M76 372l7 -7M77 363l7 7M77 370l7 -7M77 362l7 7M77 369l7 -7M77 361l7 7M77 368l7 -7M78 359l7 7M78 366l7 -7M78 358l7 7M78 365l7 -7M79 357l7 7M79 364l7 -7M79 355l7 7M79 362l7 -7M80 354l7 7M80 361l7 -7M80 353l7 7M80 360l7 -7M81 351l7 7M81 358l7 -7M81 350l7 7M81 357l7 -7M82 349l7 7M82 356l7 -7M82 347l7 7M82 354l7 -7M83 346l7 7M83 353l7 -7M83 345l7 7M83 352l7 -7M85 343l7 7M85 350l7 -7M88 342l7 7M88 349l7 -7M99 341l7 7M99 348l7 -7M101 339l7 7M101 346l7 -7M102 338l7 7M102 345l7 -7M104 337l7 7M104 344l7 -7M105 335l7 7M105 342l7 -7M107 334l7 7M107 341l7 -7M107 333l7 7M107 340l7 -7M108 331l7 7M108 338l7 -7M109 330l7 7M109 337l7 -7M110 329l7 7M110 336l7 -7M111 327l7 7M111 334l7 -7M111 326l7 7M111 333l7 -7M112 325l7 7M112 332l7 -7M113 323l7 7M113 330l7 -7M114 322l7 7M114 329l7 -7M114 321l7 7M114 328l7 -7M115 319l7 7M115 326l7 -7M116 318l7 7M116 325l7 -7M117 317l7 7M117 324l7 -7M117 315l7 7M117 322l7 -7M118 314l7 7M118 321l7 -7M119 313l7 7M119 320l7 -7M120 311l7 7M120 318l7 -7M121 310l7 7M121 317l7 -7M122 309l7 7M122 316l7 -7M123 307l7 7M123 314l7 -7M123 306l7 7M123 313l7 -7M124 305l7 7M124 312l7 -7M140 303l7 7M140 310l7 -7M142 302l7 7M142 309l7 -7M144 301l7 7M144 308l7 -7M146 299l7 7M146 306l7 -7M149 298l7 7M149 305l7 -7M152 297l7 7M152 304l7 -7M155 295l7 7M155 302l7 -7M311 273l7 7M311 280l7 -7M311 271l7 7M311 278l7 -7M311 270l7 7M311 277l7 -7M311 269l7 7M311 276l7 -7M311 267l7 7M311 274l7 -7M311 266l7 7M311 273l7 -7M311 265l7 7M311 272l7 -7M311 263l7 7M311 270l7 -7M311 262l7 7M311 269l7 -7M311 261l7 7M311 268l7 -7M311 259l7 7M311 266l7 -7M311 258l7 7M311 265l7 -7M311 257l7 7M311 264l7 -7M311 255l7 7M311 262l7 -7M311 254l7 7M311 261l7 -7M311 253l7 7M311 260l7 -7M312 251l7 7M312 258l7 -7M313 250l7 7M313 257l7 -7M314 249l7 7M314 256l7 -7M315 247l7 7M315 254l7 -7M317 246l7 7M317 253l7 -7M318 245l7 7M318 252l7 -7M318 243l7 7M318 250l7 -7M319 242l7 7M319 249l7 -7M319 241l7 7M319 248l7 -7M320 239l7 7M320 246l7 -7M320 238l7 7M320 245l7 -7M321 237l7 7M321 244l7 -7M321 236l7 7M321 243l7 -7M322 234l7 7M322 241l7 -7M322 233l7 7M322 240l7 -7M322 232l7 7M322 239l7 -7M323 230l7 7M323 237l7 -7M324 229l7 7M324 236l7 -7M324 228l7 7M324 235l7 -7M325 226l7 7M325 233l7 -7M325 225l7 7M325 232l7 -7M326 224l7 7M326 231l7 -7M326 222l7 7M326 229l7 -7M327 221l7 7M327 228l7 -7M328 220l7 7M328 227l7 -7M330 218l7 7M330 225l7 -7M332 217l7 7M332 224l7 -7M364 209l7 7M364 216l7 -7M365 208l7 7M365 215l7 -7M366 206l7 7M366 213l7 -7M367 205l7 7M367 212l7 -7M368 204l7 7M368 211l7 -7M369 202l7 7M369 209l7 -7M370 201l7 7M370 208l7 -7M371 200l7 7M371 207l7 -7M474 169l7 7M474 176l7 -7M475 168l7 7M475 175l7 -7M476 166l7 7M476 173l7 -7M476 165l7 7M476 172l7 -7M477 164l7 7M477 171l7 -7M478 162l7 7M478 169l7 -7M479 161l7 7M479 168l7 -7M577 141l7 7M577 148l7 -7M577 140l7 7M577 147l7 -7M577 138l7 7M577 145l7 -7M577 137l7 7M577 144l7 -7M577 136l7 7M577 143l7 -7M577 134l7 7M577 141l7 -7M578 133l7 7M578 140l7 -7M578 132l7 7M578 139l7 -7M578 130l7 7M578 137l7 -7M578 129l7 7M578 136l7 -7M578 128l7 7M578 135l7 -7M579 126l7 7M579 133l7 -7M580 125l7 7M580 132l7 -7M581 124l7 7M581 131l7 -7M583 122l7 7M583 129l7 -7M585 121l7 7M585 128l7 -7M586 120l7 7M586 127l7 -7M587 118l7 7M587 125l7 -7M588 117l7 7M588 124l7 -7M589 116l7 7M589 123l7 -7M591 114l7 7M591 121l7 -7M592 113l7 7M592 120l7 -7M592 112l7 7M592 119l7 -7M592 110l7 7M592 117l7 -7M593 109l7 7M593 116l7 -7M593 108l7 7M593 115l7 -7M593 106l7 7M593 113l7 -7M593 105l7 7M593 112l7 -7M593 104l7 7M593 111l7 -7M594 103l7 7M594 110l7 -7M595 101l7 7M595 108l7 -7M596 100l7 7M596 107l7 -7M597 99l7 7M597 106l7 -7M598 97l7 7M598 104l7 -7M599 96l7 7M599 103l7 -7M600 95l7 7M600 102l7 -7M601 93l7 7M601 100l7 -7M602 92l7 7M602 99l7 -7M602 91l7 7M602 98l7 -7M603 89l7 7M603 96l7 -7M604 88l7 7M604 95l7 -7M605 87l7 7M605 94l7 -7M606 85l7 7M606 92l7 -7M607 84l7 7M607 91l7 -7M608 83l7 7M608 90l7 -7M609 81l7 7M609 88l7 -7M610 80l7 7M610 87l7 -7M610 79l7 7M610 86l7 -7M612 77l7 7M612 84l7 -7M613 76l7 7M613 83l7 -7M614 75l7 7M614 82l7 -7M615 73l7 7M615 80l7 -7M616 72l7 7M616 79l7 -7M617 71l7 7M617 78l7 -7M95 341l7 7M95 348l7 -7M160 293l7 7M160 300l7 -7M163 293l7 7M163 300l7 -7M165 292l7 7M165 299l7 -7M167 291l7 7M167 298l7 -7M168 291l7 7M168 298l7 -7M171 290l7 7M171 297l7 -7M175 290l7 7M175 297l7 -7M185 287l7 7M185 294l7 -7M185 287l7 7M185 294l7 -7M189 286l7 7M189 293l7 -7M190 286l7 7M190 293l7 -7M207 283l7 7M207 290l7 -7M230 282l7 7M230 289l7 -7M259 280l7 7M259 287l7 -7M288 277l7 7M288 284l7 -7M288 276l7 7M288 283l7 -7M307 274l7 7M307 281l7 -7M343 217l7 7M343 224l7 -7M351 215l7 7M351 222l7 -7M355 214l7 7M355 221l7 -7M359 212l7 7M359 219l7 -7M363 210l7 7M363 217l7 -7M377 197l7 7M377 204l7 -7M383 195l7 7M383 202l7 -7M387 194l7 7M387 201l7 -7M389 192l7 7M389 199l7 -7M394 190l7 7M394 197l7 -7M395 189l7 7M395 196l7 -7M397 188l7 7M397 195l7 -7M400 187l7 7M400 194l7 -7M407 184l7 7M407 191l7 -7M409 183l7 7M409 190l7 -7M410 182l7 7M410 189l7 -7M412 181l7 7M412 188l7 -7M425 178l7 7M425 185l7 -7M427 178l7 7M427 185l7 -7M434 176l7 7M434 183l7 -7M444 174l7 7M444 181l7 -7M446 173l7 7M446 180l7 -7M453 172l7 7M453 179l7 -7M487 160l7 7M487 167l7 -7M488 159l7 7M488 166l7 -7M492 157l7 7M492 164l7 -7M504 155l7 7M504 162l7 -7M511 154l7 7M511 161l7 -7M516 153l7 7M516 160l7 -7M531 150l7 7M531 157l7 -7M532 150l7 7M532 157l7 -7M553 146l7 7M553 153l7 -7M555 146l7 7M555 153l7 -7M564 144l7 7M564 151l7 -7M567 144l7 7M567 151l7 -7M571 143l7 7M571 150l7 -7M574 142l7 7M574 149l7 -7" stroke="#0080ff"/>
<path d="M52 437.5 L59 437.5 L59 436.5 L71 436.5 L71 435.5 L77.5 435.5 L77.5 398.7 L80.4 398.7 L80.2 382.5 L83 372.5 L87.5 366 L88.75 360.6 L92.5 359.4 L103.75 358 L110 355 L115 350 L120 345 L122.5 339.5 L127.5 333.5 L132 332 L140 331.2 L146 330.2 L149 329.5 L151.5 327.3 L157.5 323 L167.5 319.4 L180 316 L195 312.5 L211 310 L232.5 309 L250 308.3 L270 307.5 L302.5 305.6 L315 304.5 L316 289 L320 284 L326 272 L333 262 L336 260.6 L348 260 L366 255 L370 251.25 L376 245 L385 243.75 L400 238.75 L415 235 L430 232.5 L437.5 229.5 L450 227.5 L457.5 225 L476 224 L481 218.75 L495 213.25 L520 210.5 L536 208.25 L555 206.25 L566 204 L574 202.4 L581 200 L586 197 L592 190 L596 183 L597 177 L603 168 L612 157 L621.5 147" stroke="#c000ff"/>
</g>
<rect x="52.5" y="39.5" width="569" height="399" fill="none" stroke="#000" stroke-width="1" shape-rendering="crispEdges"/>
</svg></body></html>
